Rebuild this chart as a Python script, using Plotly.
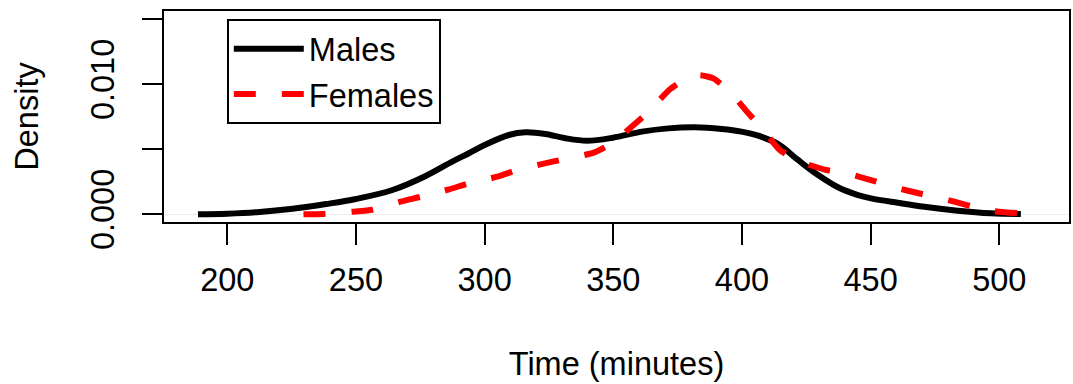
import plotly.graph_objects as go

# Kernel density estimates of finishing time, by sex
male_time = [188.6, 200.0, 212.5, 225.4, 238.4, 250.0, 264.2, 277.1, 287.4, 293.9,
             300.0, 309.4, 315.9, 323.6, 331.4, 339.8, 349.8, 361.1, 371.4, 381.8,
             392.1, 399.8, 406.3, 414.1, 421.8, 429.6, 437.3, 445.1, 450.2, 460.6,
             470.9, 483.8, 496.7, 508.4]
male_density = [0.0, 0.00005, 0.00018, 0.00043, 0.00079, 0.00118, 0.00187, 0.00295, 0.00405, 0.00470,
                0.00533, 0.00610, 0.00631, 0.00618, 0.00585, 0.00566, 0.00589, 0.00636, 0.00661, 0.00669,
                0.00656, 0.00636, 0.00605, 0.00540, 0.00418, 0.00302, 0.00208, 0.00148, 0.00123, 0.00089,
                0.00058, 0.00028, 0.00008, 0.00002]

female_time = [229.6, 237.3, 248.7, 256.4, 267.4, 275.2, 286.2, 293.9, 304.9, 312.6,
               323.4, 331.1, 342.4, 349.5, 357.9, 363.7, 371.7, 378.5, 383.7, 388.9,
               395.3, 402.5, 408.3, 414.7, 422.5, 432.8, 440.5, 451.5, 459.3, 469.9,
               477.6, 488.8, 496.7, 507.8, 515.9]
female_density = [0.0, 0.00003, 0.00020, 0.00035, 0.00097, 0.00135, 0.00192, 0.00238, 0.00289, 0.00341,
                  0.00392, 0.00425, 0.00474, 0.00546, 0.00687, 0.00789, 0.00956, 0.01046, 0.01070, 0.01046,
                  0.00943, 0.00777, 0.00648, 0.00495, 0.00405, 0.00341, 0.00315, 0.00256, 0.00208, 0.00156,
                  0.00123, 0.00064, 0.00028, 0.00008, 0.0]

x_ticks = [200, 250, 300, 350, 400, 450, 500]
y_ticks = [0.0, 0.005, 0.010, 0.015]
y_tick_labels = ["0.000", "", "0.010", ""]

FONT = "Liberation Sans, Arial, Helvetica, sans-serif"
FS = 32.5

fig = go.Figure()
fig.add_trace(go.Scatter(
    x=male_time, y=male_density, name="Males", mode="lines",
    line=dict(color="black", width=6, shape="spline", smoothing=1.0),
))
fig.add_trace(go.Scatter(
    x=female_time, y=female_density, name="Females", mode="lines",
    line=dict(color="#ff0000", width=6, dash="22px,26px", shape="spline", smoothing=0.5),
))

fig.update_layout(
    width=1073, height=384,
    margin=dict(l=164, r=1.5, t=11, b=162, pad=0),
    paper_bgcolor="white", plot_bgcolor="white",
    font=dict(family=FONT, size=FS, color="black"),
    showlegend=True,
    legend=dict(
        x=0.0694, y=0.962, xanchor="left", yanchor="top",
        bordercolor="black", borderwidth=2, bgcolor="white",
        font=dict(family=FONT, size=FS, color="black"),
        itemwidth=70, tracegroupgap=0,
    ),
)

fig.update_xaxes(
    range=[175.4, 527.1], tickvals=x_ticks, ticktext=[str(v) for v in x_ticks],
    ticks="outside", ticklen=21, tickwidth=2, tickcolor="black",
    showline=True, linecolor="black", linewidth=2, mirror=True,
    showgrid=False, zeroline=False, ticklabelstandoff=7,
    title=dict(text="Time (minutes)", standoff=55, font=dict(size=FS)),
)
fig.update_yaxes(
    range=[-0.000592, 0.01564], tickvals=y_ticks, ticktext=y_tick_labels,
    tickangle=-90,
    ticks="outside", ticklen=20, tickwidth=2, tickcolor="black",
    showline=True, linecolor="black", linewidth=2, mirror=True,
    showgrid=False, zeroline=True, zerolinecolor="#ececec", zerolinewidth=1,
    ticklabelstandoff=15,
    title=dict(text="Density", standoff=37, font=dict(size=FS)),
)

fig.write_html("out.html")
